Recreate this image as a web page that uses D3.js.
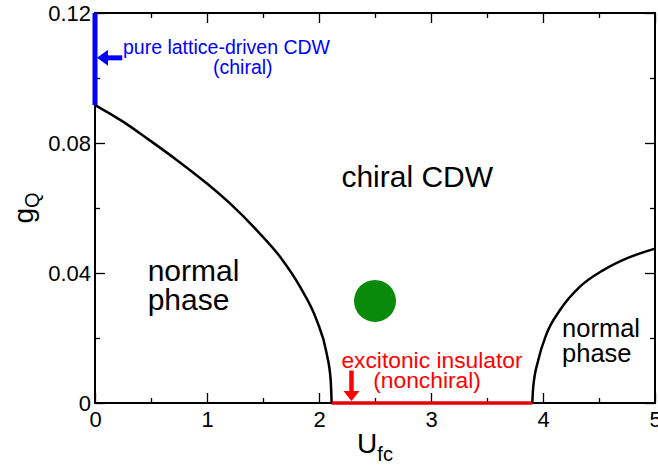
<!DOCTYPE html>
<html>
<head>
<meta charset="utf-8">
<script src="https://cdn.jsdelivr.net/npm/d3@7"></script>
<style>
  body { margin: 0; background: #fff; }
  svg text { font-family: "Liberation Sans", Arial, sans-serif; }
</style>
</head>
<body>
<div id="chart"></div>
<script>
// phase boundaries (U_fc, g_Q)
var leftBoundaryU = [0, 0.12, 0.253, 0.461, 0.729, 0.997, 1.205, 1.443, 1.652, 1.83, 1.979, 2.068, 2.104, 2.113];
var leftBoundaryG = [0.0917, 0.0893, 0.0865, 0.0815, 0.0748, 0.0676, 0.0614, 0.0532, 0.045, 0.0358, 0.0255, 0.0153, 0.0071, 0];

var rightBoundaryU = [3.904, 3.913, 3.958, 4.033, 4.152, 4.33, 4.539, 4.747, 5.0];
var rightBoundaryG = [0, 0.005, 0.0132, 0.0214, 0.0286, 0.0358, 0.0409, 0.0445, 0.0475];

// special lines / point
var latticeCdwU = [0, 0];
var latticeCdwG = [0.0917, 0.12];
var excitonicU = [2.113, 3.904];
var excitonicG = [0, 0];
var dotU = [2.5];
var dotG = [0.0314];

var xTicks = [0, 1, 2, 3, 4, 5];
var xTickLabels = ["0", "1", "2", "3", "4", "5"];
var xMinorTicks = [0.5, 1.5, 2.5, 3.5, 4.5];
var yTicks = [0, 0.04, 0.08, 0.12];
var yTickLabels = ["0", "0.04", "0.08", "0.12"];
var yMinorTicks = [0.02, 0.06, 0.1];

var margin = {top: 13, right: 3, bottom: 62, left: 95};
var width = 658 - margin.left - margin.right;
var height = 465 - margin.top - margin.bottom;

function createSvg(locator) {
  return d3.select(locator)
          .append("svg")
            .attr("width", width + margin.left + margin.right)
            .attr("height", height + margin.top + margin.bottom)
          .append("g")
            .attr("transform",
                  "translate(" + margin.left + "," + margin.top + ")");
}

function zipPoints(us, gs) {
  return us.map(function(u, i) { return [u, gs[i]]; });
}

var svg = createSvg("#chart");

var xScale = d3.scaleLinear().domain([0, 5]).range([0, width]);
var yScale = d3.scaleLinear().domain([0, 0.12]).range([height, 0]);

// axes with inward ticks on all four sides
function styleAxis(g) {
  g.select(".domain").remove();
  g.selectAll("line").attr("stroke", "#000").attr("stroke-width", 1.3);
  g.selectAll("text").attr("fill", "#000").style("font-size", "22px");
}

svg.append("g")
   .attr("transform", "translate(0," + height + ")")
   .call(d3.axisBottom(xScale).tickValues(xTicks)
           .tickFormat(function(d, i) { return xTickLabels[i]; })
           .tickSizeInner(-10).tickSizeOuter(0).tickPadding(8))
   .call(styleAxis);

svg.append("g")
   .attr("transform", "translate(0," + height + ")")
   .call(d3.axisBottom(xScale).tickValues(xMinorTicks).tickFormat("")
           .tickSizeInner(-5).tickSizeOuter(0))
   .call(styleAxis);

svg.append("g")
   .call(d3.axisTop(xScale).tickValues(xTicks).tickFormat("")
           .tickSizeInner(-10).tickSizeOuter(0))
   .call(styleAxis);

svg.append("g")
   .call(d3.axisTop(xScale).tickValues(xMinorTicks).tickFormat("")
           .tickSizeInner(-5).tickSizeOuter(0))
   .call(styleAxis);

svg.append("g")
   .call(d3.axisLeft(yScale).tickValues(yTicks)
           .tickFormat(function(d, i) { return yTickLabels[i]; })
           .tickSizeInner(-10).tickSizeOuter(0).tickPadding(4))
   .call(styleAxis);

svg.append("g")
   .call(d3.axisLeft(yScale).tickValues(yMinorTicks).tickFormat("")
           .tickSizeInner(-5).tickSizeOuter(0))
   .call(styleAxis);

svg.append("g")
   .attr("transform", "translate(" + width + ",0)")
   .call(d3.axisRight(yScale).tickValues(yTicks).tickFormat("")
           .tickSizeInner(-10).tickSizeOuter(0))
   .call(styleAxis);

svg.append("g")
   .attr("transform", "translate(" + width + ",0)")
   .call(d3.axisRight(yScale).tickValues(yMinorTicks).tickFormat("")
           .tickSizeInner(-5).tickSizeOuter(0))
   .call(styleAxis);

svg.append("rect")
   .attr("width", width)
   .attr("height", height)
   .attr("fill", "none")
   .attr("stroke", "#000")
   .attr("stroke-width", 2);

// boundaries
var line = d3.line()
             .x(function(d) { return xScale(d[0]); })
             .y(function(d) { return yScale(d[1]); })
             .curve(d3.curveMonotoneX);

svg.append("path")
   .datum(zipPoints(leftBoundaryU, leftBoundaryG))
   .attr("d", line)
   .attr("fill", "none")
   .attr("stroke", "#000")
   .attr("stroke-width", 2.5);

svg.append("path")
   .datum(zipPoints(rightBoundaryU, rightBoundaryG))
   .attr("d", line)
   .attr("fill", "none")
   .attr("stroke", "#000")
   .attr("stroke-width", 2.5);

var straight = d3.line()
                 .x(function(d) { return xScale(d[0]); })
                 .y(function(d) { return yScale(d[1]); });

svg.append("path")
   .datum(zipPoints(latticeCdwU, latticeCdwG))
   .attr("d", straight)
   .attr("stroke", "#0000ff")
   .attr("stroke-width", 5);

svg.append("path")
   .datum(zipPoints(excitonicU, excitonicG))
   .attr("d", straight)
   .attr("stroke", "#e60000")
   .attr("stroke-width", 3.5);

svg.selectAll(".dot")
   .data(zipPoints(dotU, dotG))
   .enter().append("circle")
   .attr("class", "dot")
   .attr("cx", function(d) { return xScale(d[0]); })
   .attr("cy", function(d) { return yScale(d[1]); })
   .attr("r", 21)
   .attr("fill", "#0a8a0a");

// arrows
function arrow(x1, y1, x2, y2, color, shaft, headLen, headHalf) {
  var ang = Math.atan2(y2 - y1, x2 - x1);
  var bx = x2 - headLen * Math.cos(ang), by = y2 - headLen * Math.sin(ang);
  svg.append("line")
     .attr("x1", x1).attr("y1", y1).attr("x2", bx).attr("y2", by)
     .attr("stroke", color).attr("stroke-width", shaft);
  var px = -Math.sin(ang) * headHalf, py = Math.cos(ang) * headHalf;
  svg.append("path")
     .attr("d", "M" + x2 + "," + y2 + "L" + (bx + px) + "," + (by + py) +
                "L" + (bx - px) + "," + (by - py) + "Z")
     .attr("fill", color);
}

arrow(xScale(0.243), yScale(0.1062), xScale(0.018), yScale(0.1062), "#0000ff", 5, 11, 8);
arrow(xScale(2.29), yScale(0.01), xScale(2.29), yScale(0.0006), "#ff0000", 4.5, 10, 8);

// labels
function label(u, g, txt, size, color, anchor) {
  svg.append("text")
     .attr("x", xScale(u))
     .attr("y", yScale(g))
     .attr("text-anchor", anchor || "start")
     .attr("fill", color)
     .style("font-size", size + "px")
     .text(txt);
}

label(0.25, 0.1074, "pure lattice-driven CDW", 19.5, "#0000ff");
label(1.32, 0.1012, "(chiral)", 19.5, "#0000ff", "middle");
label(2.2, 0.0108, "excitonic insulator", 22.8, "#ff0000");
label(2.965, 0.0046, "(nonchiral)", 22.8, "#ff0000", "middle");
label(2.2, 0.0665, "chiral CDW", 30, "#000");
label(0.47, 0.0375, "normal", 30, "#000");
label(0.47, 0.0286, "phase", 30, "#000");
label(4.17, 0.0203, "normal", 25.5, "#000");
label(4.17, 0.0126, "phase", 25.5, "#000");

// axis titles
var xTitle = svg.append("text")
   .attr("x", width / 2)
   .attr("y", height + 50)
   .attr("text-anchor", "middle")
   .style("font-size", "28px");
xTitle.append("tspan").text("U");
xTitle.append("tspan").attr("dy", 8).style("font-size", "20px").text("fc");

var yTitle = svg.append("text")
   .attr("transform", "translate(" + (33 - margin.left) + "," + (height / 2) + ") rotate(-90)")
   .attr("text-anchor", "middle")
   .style("font-size", "28px");
yTitle.append("tspan").text("g");
yTitle.append("tspan").attr("dy", 6).style("font-size", "20px").text("Q");
</script>
</body>
</html>
